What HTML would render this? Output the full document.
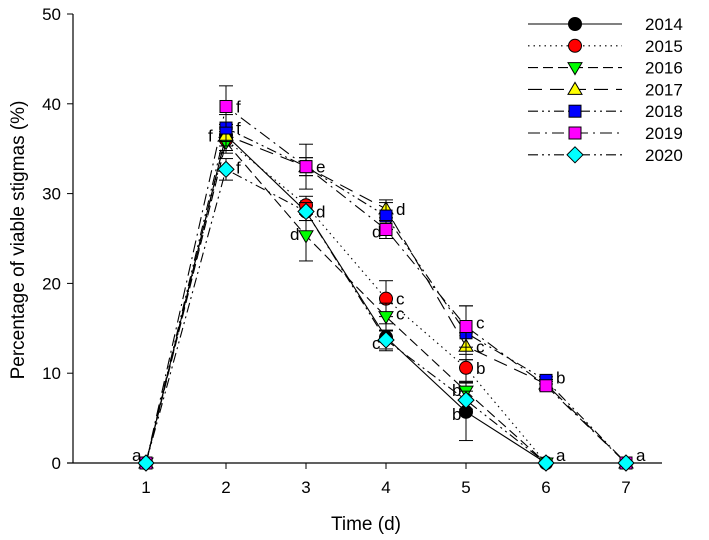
<!DOCTYPE html>
<html><head><meta charset="utf-8"><style>
html,body{margin:0;padding:0;background:#fff}
svg{display:block;font-family:"Liberation Sans",Arial,sans-serif}
</style></head><body>
<svg id="c" width="709" height="540" viewBox="0 0 709 540"></svg>
<script>
const categories=[1,2,3,4,5,6,7];
const years=["2014","2015","2016","2017","2018","2019","2020"];
const s2014=[0,36.5,28,14,5.7,0];
const s2015=[0,36,28.7,18.3,10.6,0];
const s2016=[0,35.7,25.3,16.3,8,0];
const s2017=[0,36.5,33,28.3,13,8.8,0];
const s2018=[0,37.3,33,27.5,14.5,9.2,0];
const s2019=[0,39.7,33,26,15.2,8.6,0];
const s2020=[0,32.7,28,13.7,7,0,0];
const e2014=[0,1.2,1,1.5,3.2,0];
const e2015=[0,1.2,1,2,1.5,0];
const e2016=[0,1.2,2.8,1.5,1,0];
const e2017=[0,1.2,1,1,1.5,0.5,0];
const e2018=[0,1.5,2.5,1.5,3,0.4,0];
const e2019=[0,2.3,1,1,2.3,0.5,0];
const e2020=[0,1.2,1,1,1,0,0];
const yTicks=[0,10,20,30,40,50];
const letters=[["a",1,0,-14,-8],["f",2,39.7,10,0],["f",2,37.3,10,0],["f",2,36,-18,-4],["f",2,32.7,10,-2],["e",3,33,10,0],["d",3,28,10,0],["d",3,25.3,-16,-2],["d",4,28.3,10,0],["d",4,26,-14,2],["c",4,18.3,10,0],["c",4,16.3,10,-3],["c",4,13.7,-14,3],["c",5,15.2,10,-4],["c",5,13,10,0],["b",5,10.6,10,0],["b",5,8,-14,-1],["b",5,5.7,-14,2],["b",6,9.2,10,-3],["a",6,0,10,-8],["a",7,0,10,-8]];
const series=[s2014,s2015,s2016,s2017,s2018,s2019,s2020];
const errs=[e2014,e2015,e2016,e2017,e2018,e2019,e2020];
const colors=["#000","#f00","#0f0","#ff0","#00f","#f0f","#0ff"];
const shapes=["circle","circle","tdown","tup","square","square","diamond"];
const dashes=["","1.5,4","10,5","14,8","10,4,2,4,2,4","12,5,2,5","10,4,2,4,2,4"];
const X=v=>146+(v-1)*80, Y=v=>463-v*8.98;
const svg=document.getElementById('c');const NS="http://www.w3.org/2000/svg";
function el(t,a,p){const e=document.createElementNS(NS,t);for(const k in a)e.setAttribute(k,a[k]);(p||svg).appendChild(e);return e;}
function marker(shape,cx,cy,col,g){
 let m;
 if(shape==="circle")m=el("circle",{cx,cy,r:6.5,fill:col,stroke:"#000","stroke-width":1},g);
 else if(shape==="square")m=el("rect",{x:cx-6,y:cy-6,width:12,height:12,fill:col,stroke:"#000","stroke-width":1},g);
 else if(shape==="tdown")m=el("polygon",{points:`${cx-7},${cy-5} ${cx+7},${cy-5} ${cx},${cy+7}`,fill:col,stroke:"#000","stroke-width":1},g);
 else if(shape==="tup")m=el("polygon",{points:`${cx-7},${cy+5} ${cx+7},${cy+5} ${cx},${cy-7}`,fill:col,stroke:"#000","stroke-width":1},g);
 else m=el("polygon",{points:`${cx},${cy-8} ${cx+8},${cy} ${cx},${cy+8} ${cx-8},${cy}`,fill:col,stroke:"#000","stroke-width":1},g);
 return m;
}
const ax=el("g",{});
el("line",{x1:73,y1:14,x2:73,y2:463,stroke:"#000","stroke-width":1.2},ax);
el("line",{x1:67,y1:463,x2:662,y2:463,stroke:"#000","stroke-width":1.2},ax);
yTicks.forEach(t=>{el("line",{x1:67,x2:73,y1:Y(t),y2:Y(t),stroke:"#000"},ax);
 const tx=el("text",{x:61,y:Y(t)+6,"text-anchor":"end","font-size":17},ax);tx.textContent=t;
 });
categories.forEach(c=>{el("line",{x1:X(c),x2:X(c),y1:463,y2:469,stroke:"#000"},ax);
 const tx=el("text",{x:X(c),y:493,"text-anchor":"middle","font-size":17},ax);tx.textContent=c;
 });
const yt=el("text",{x:0,y:0,transform:"translate(24,240) rotate(-90)","text-anchor":"middle","font-size":19});yt.textContent="Percentage of viable stigmas (%)";

const xt=el("text",{x:366,y:530,"text-anchor":"middle","font-size":19});xt.textContent="Time (d)";

series.forEach((s,i)=>{
 const g=el("g",{});
 el("polyline",{points:s.map((v,j)=>X(categories[j])+","+Y(v)).join(" "),fill:"none",stroke:"#000","stroke-width":1.1,"stroke-dasharray":dashes[i]},g);
});
series.forEach((s,i)=>{
 const g=el("g",{});
 s.forEach((v,j)=>{const e=errs[i][j],cx=X(categories[j]);
  if(e>0){el("line",{x1:cx,x2:cx,y1:Y(v+e),y2:Y(v-e),stroke:"#000"},g);
   el("line",{x1:cx-7,x2:cx+7,y1:Y(v+e),y2:Y(v+e),stroke:"#000"},g);
   el("line",{x1:cx-7,x2:cx+7,y1:Y(v-e),y2:Y(v-e),stroke:"#000"},g);}
  const m=marker(shapes[i],cx,Y(v),colors[i],g);
  
 });
});
letters.forEach(l=>{const t=el("text",{x:X(l[1])+l[3],y:Y(l[2])+6+l[4],"font-size":17});t.textContent=l[0];
 });
const lg=el("g",{});
years.forEach((y,i)=>{const yy=24+i*21.8;
 const g=el("g",{},lg);
 el("line",{x1:528,x2:622,y1:yy,y2:yy,stroke:"#000","stroke-width":1.1,"stroke-dasharray":dashes[i]},g);
 marker(shapes[i],575,yy,colors[i],g);
 const t=el("text",{x:645,y:yy+6,"font-size":17},g);t.textContent=y;});
</script>
</body></html>
